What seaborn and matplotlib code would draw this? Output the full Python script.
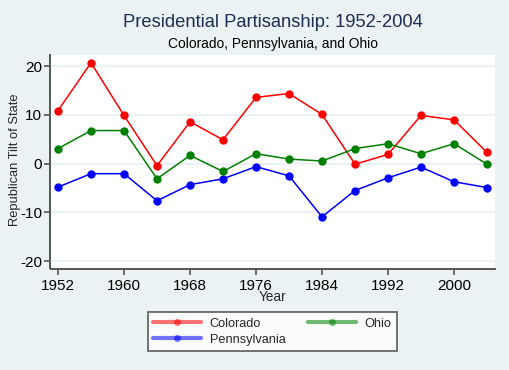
import numpy as np
import pandas as pd
import matplotlib
matplotlib.use("Agg")
import matplotlib.pyplot as plt
from matplotlib.lines import Line2D
import seaborn as sns

years = [1952, 1956, 1960, 1964, 1968, 1972, 1976, 1980, 1984, 1988, 1992, 1996, 2000, 2004]
colorado = [10.9, 20.7, 9.9, -0.4, 8.6, 4.9, 13.6, 14.4, 10.1, -0.1, 1.9, 9.9, 9.0, 2.3]
ohio = [3.1, 6.8, 6.8, -3.1, 1.7, -1.6, 2.05, 0.95, 0.55, 3.1, 4.1, 2.05, 4.1, -0.1]
pennsylvania = [-4.8, -2.05, -2.05, -7.6, -4.3, -3.1, -0.6, -2.5, -10.9, -5.5, -2.9, -0.7, -3.7, -4.9]
states = ["Colorado", "Pennsylvania", "Ohio"]
colors = {"Colorado": "#ff0000", "Pennsylvania": "#0000ff", "Ohio": "#008000"}
xticks = [1952, 1960, 1968, 1976, 1984, 1992, 2000]
yticks = [-20, -10, 0, 10, 20]

df = pd.DataFrame({
    "Year": years * 3,
    "Tilt": colorado + pennsylvania + ohio,
    "State": ["Colorado"] * len(years) + ["Pennsylvania"] * len(years) + ["Ohio"] * len(years),
})

sns.set_theme(style="white")
plt.rcParams["font.family"] = ["Liberation Sans", "DejaVu Sans"]

bg = "#eaf2f3"
W, H = 509, 370
fig = plt.figure(figsize=(W / 100, H / 100), dpi=100, facecolor=bg)
ax = fig.add_axes([51 / W, 1 - 268 / H, (495 - 51) / W, (268 - 55) / H])
ax.set_facecolor("white")

for y in yticks:
    ax.axhline(y, color=bg, lw=1.6, zorder=0)

sns.lineplot(data=df, x="Year", y="Tilt", hue="State", hue_order=states,
             palette=colors, marker="o", markersize=6, markeredgewidth=0,
             linewidth=1.1, ax=ax, legend=False, zorder=3)

ax.set_xlim(1951.15, 2004.97)
ax.set_ylim(-21.4, 22.3)
ax.set_xticks(xticks)
ax.set_yticks(yticks)
ax.set_xticklabels([str(x) for x in xticks], fontsize=10)
ax.set_yticklabels([str(y) for y in yticks], fontsize=9.8, rotation=90, va="center")
ax.tick_params(axis="both", direction="out", length=4, width=1.2, color="#555555",
               labelcolor="black", pad=2)
ax.tick_params(axis="x", bottom=True, pad=3)
ax.tick_params(axis="y", left=True, pad=1.5)

for s in ["top", "right"]:
    ax.spines[s].set_visible(False)
for s in ["left", "bottom"]:
    ax.spines[s].set_color("#555555")
    ax.spines[s].set_linewidth(1.4)
    ax.spines[s].set_position(("outward", 1))

ax.set_xlabel("Year", fontsize=9.8, labelpad=-2)
ax.set_ylabel("Republican Tilt of State", fontsize=9.3, va="center")
ax.yaxis.set_label_coords((15 - 51) / 444, (268 - 160) / 213)

fig.text(273 / W, 1 - 22.5 / H, "Presidential Partisanship: 1952-2004", ha="center", va="center",
         fontsize=13.2, color="#1e2d53")
fig.text(273 / W, 1 - 44 / H, "Colorado, Pennsylvania, and Ohio", ha="center", va="center",
         fontsize=9.9, color="black")

handles = [Line2D([0], [0], color=colors[s], alpha=0.55, lw=3,
                  marker="o", markersize=5, markerfacecolor=colors[s],
                  markeredgewidth=0) for s in states]
leg = fig.legend(handles, states, ncol=2, loc="center",
                 bbox_to_anchor=(272.5 / W, 1 - 331.7 / H), frameon=True, fancybox=False,
                 fontsize=9.2, handlelength=3.7, columnspacing=1.8, labelspacing=0.3,
                 borderpad=0.45, handletextpad=0.7, edgecolor="#444444")
leg.get_frame().set_linewidth(1.3)

fig.savefig("out.png", dpi=100, facecolor=bg)
